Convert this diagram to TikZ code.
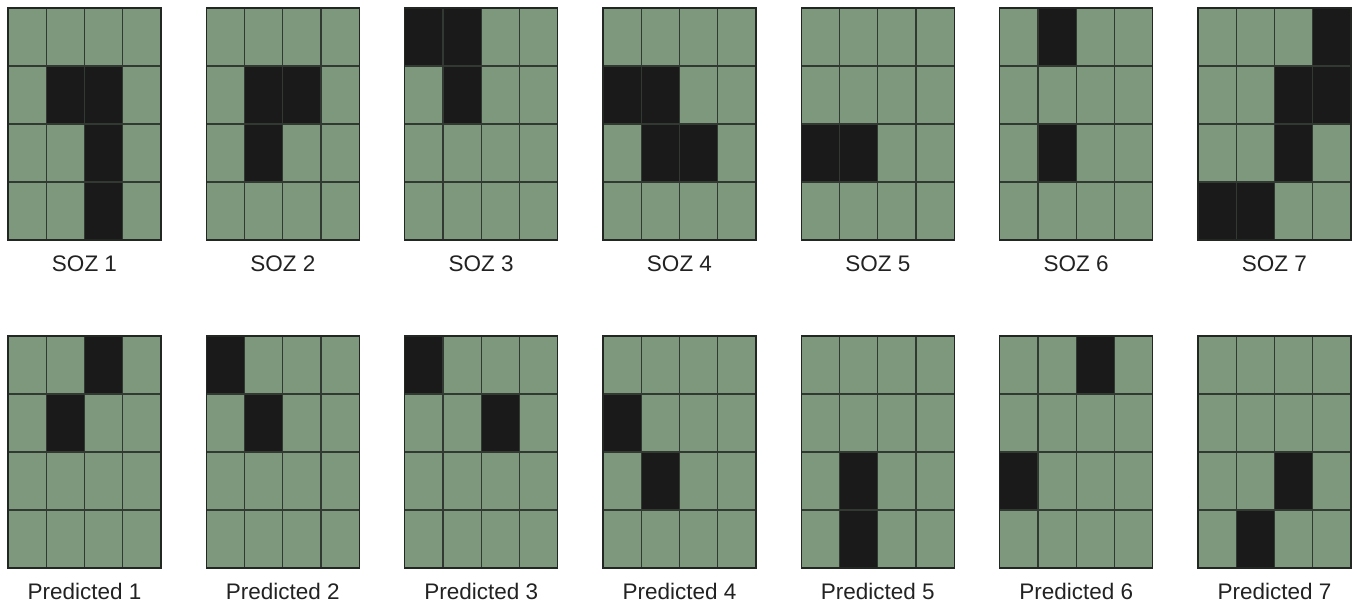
\documentclass[tikz,border=0pt]{standalone}
\usepackage{fontspec}
\setmainfont{Liberation Sans}
\usepackage{tikz}
\usetikzlibrary{positioning}
\definecolor{cellgreen}{RGB}{126,152,126}
\definecolor{cellblack}{RGB}{26,26,26}
\definecolor{gridgray}{RGB}{50,56,50}
\definecolor{lblgray}{RGB}{34,34,34}

\begin{document}
\begin{tikzpicture}[x=1pt, y=-1pt,
  cell/.style={draw=gridgray, fill=cellgreen, line width=1.2pt},
  hit/.style={draw=gridgray, fill=cellblack, line width=1.2pt},
  frame/.style={draw=gridgray!70!black, line width=1.6pt},
  lbl/.style={font=\fontsize{22.5}{27}\selectfont, text=lblgray, anchor=base}
]
  \useasboundingbox (0,0) rectangle (1357,606);

  % SOZ maps (top row)
  \foreach \k/\hits in {1/{2/2,2/3,3/3,4/3}, 2/{2/2,2/3,3/2}, 3/{1/1,1/2,2/2},
                        4/{2/1,2/2,3/2,3/3}, 5/{3/1,3/2}, 6/{1/2,3/2},
                        7/{1/4,2/3,2/4,3/3,4/1,4/2}}{
    \pgfmathsetmacro{\xl}{8+198.33*(\k-1)}
    \foreach \r in {1,...,4}
      \foreach \c in {1,...,4}
        \draw[cell] (\xl+38.25*\c-38.25, 8+58*\r-58) rectangle ++(38.25,58);
    \foreach \r/\c in \hits
      \draw[hit] (\xl+38.25*\c-38.25, 8+58*\r-58) rectangle ++(38.25,58);
    \draw[frame] (\xl,8) rectangle ++(153,232);
    \node[lbl] (soz\k) at (\xl+76.5,271) {SOZ \k};
  }

  % predicted maps (bottom row)
  \foreach \k/\hits in {1/{1/3,2/2}, 2/{1/1,2/2}, 3/{1/1,2/3}, 4/{2/1,3/2},
                        5/{3/2,4/2}, 6/{1/3,3/1}, 7/{3/3,4/2}}{
    \pgfmathsetmacro{\xl}{8+198.33*(\k-1)}
    \foreach \r in {1,...,4}
      \foreach \c in {1,...,4}
        \draw[cell] (\xl+38.25*\c-38.25, 336+58*\r-58) rectangle ++(38.25,58);
    \foreach \r/\c in \hits
      \draw[hit] (\xl+38.25*\c-38.25, 336+58*\r-58) rectangle ++(38.25,58);
    \draw[frame] (\xl,336) rectangle ++(153,232);
    \node[lbl] (pred\k) at (\xl+76.5,599) {Predicted \k};
  }
\end{tikzpicture}
\end{document}
